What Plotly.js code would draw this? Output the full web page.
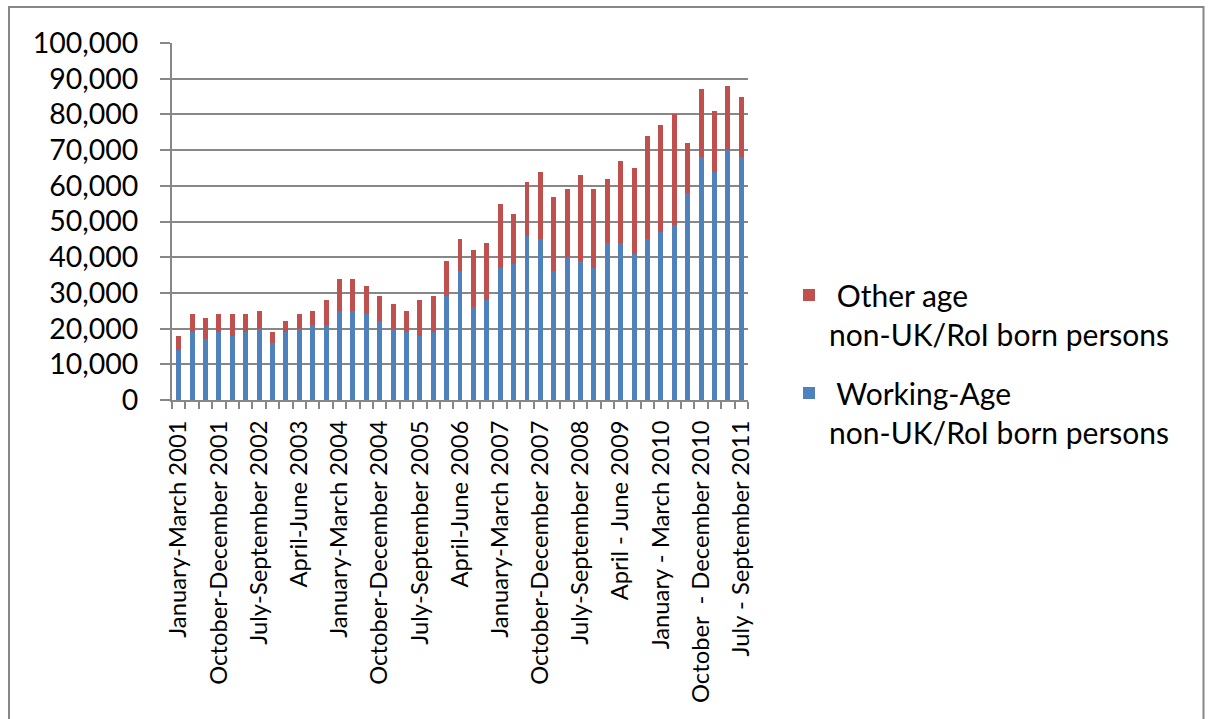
<!DOCTYPE html>
<html>
<head>
<meta charset="utf-8">
<script src="https://cdn.plot.ly/plotly-3.0.1.min.js"></script>
<style>
  html, body { margin: 0; padding: 0; background: #ffffff; }
  #chart { width: 1209px; height: 719px; }
</style>
</head>
<body>
<div id="chart"></div>
<script>
// Quarterly counts of non-UK/RoI born persons, 2001 Q1 to 2011 Q3
const quarters = [
  "January-March 2001", "April-June 2001", "July-September 2001", "October-December 2001",
  "January-March 2002", "April-June 2002", "July-September 2002", "October-December 2002",
  "January-March 2003", "April-June 2003", "July-September 2003", "October-December 2003",
  "January-March 2004", "April-June 2004", "July-September 2004", "October-December 2004",
  "January-March 2005", "April-June 2005", "July-September 2005", "October-December 2005",
  "January-March 2006", "April-June 2006", "July-September 2006", "October-December 2006",
  "January-March 2007", "April-June 2007", "July-September 2007", "October-December 2007",
  "January-March 2008", "April-June 2008", "July-September 2008", "October-December 2008",
  "January - March 2009", "April - June 2009", "July - September 2009", "October \u00a0- December 2009",
  "January - March 2010", "April - June 2010", "July - September 2010", "October \u00a0- December 2010",
  "January - March 2011", "April - June 2011", "July - September 2011"
];

const workingAge = [
  14000, 19000, 17000, 19000, 18000, 19000, 20000, 16000, 19000, 20000,
  21000, 21000, 25000, 25000, 24000, 22000, 20000, 19000, 18000, 19000,
  29000, 36000, 26000, 28000, 37000, 38000, 46000, 45000, 36000, 40000,
  39000, 37000, 44000, 44000, 41000, 45000, 47000, 49000, 58000, 68000,
  64000, 70000, 68000
];

const otherAge = [
  4000, 5000, 6000, 5000, 6000, 5000, 5000, 3000, 3000, 4000,
  4000, 7000, 9000, 9000, 8000, 7000, 7000, 6000, 10000, 10000,
  10000, 9000, 16000, 16000, 18000, 14000, 15000, 19000, 21000, 19000,
  24000, 22000, 18000, 23000, 24000, 29000, 30000, 31000, 14000, 19000,
  17000, 18000, 17000
];

const seriesNames = [
  "\u00a0Working-Age<br>non-UK/RoI born persons",
  "\u00a0Other age<br>non-UK/RoI born persons"
];

const yTicks = [0, 10000, 20000, 30000, 40000, 50000, 60000, 70000, 80000, 90000, 100000];

// every third quarter carries a label; ticks sit on every category boundary
const tickText = quarters.map((q, i) => (i % 3 === 0 ? q : ""));

const FONT = "Lato, 'Open Sans', sans-serif";
const GREY = "#878787";

const traces = [
  {
    type: "bar",
    name: seriesNames[0],
    x: quarters,
    y: workingAge,
    marker: { color: "#4F81BD", line: { width: 0 } },
    legendgroup: "wa",
    legendrank: 2
  },
  {
    type: "bar",
    name: seriesNames[1],
    x: quarters,
    y: otherAge,
    marker: { color: "#C0504D", line: { width: 0 } },
    legendgroup: "oa",
    legendrank: 1
  }
];

// plot area spans 172..748 px horizontally and 43..400 px vertically
const L = 172, R = 461, T = 43, B = 319;
const plotW = 1209 - L - R, plotH = 719 - T - B;
const px = v => (v - L) / plotW;
const py = v => (719 - B - v) / plotH;

const layout = {
  width: 1209,
  height: 719,
  margin: { l: L, r: R, t: T, b: B, pad: 0 },
  paper_bgcolor: "#ffffff",
  plot_bgcolor: "#ffffff",
  barmode: "stack",
  bargap: 0.63,
  font: { family: FONT, color: "#000000" },
  showlegend: true,
  legend: {
    x: px(789),
    y: py(269),
    xanchor: "left",
    yanchor: "top",
    traceorder: "grouped",
    tracegroupgap: 17,
    valign: "top",
    font: { family: FONT, size: 30, color: "#000000" },
    bgcolor: "rgba(0,0,0,0)",
    borderwidth: 0
  },
  xaxis: {
    type: "category",
    tickmode: "array",
    tickvals: quarters,
    ticktext: tickText,
    tickson: "boundaries",
    tickangle: -90,
    ticks: "outside",
    ticklen: 7,
    tickwidth: 2,
    tickcolor: GREY,
    showline: true,
    linecolor: GREY,
    linewidth: 2,
    showgrid: false,
    zeroline: false,
    ticklabelstandoff: 9,
    tickfont: { family: FONT, size: 23.8, color: "#000000" },
    fixedrange: true
  },
  yaxis: {
    range: [0, 100000],
    tickmode: "array",
    tickvals: yTicks,
    tickformat: ",d",
    ticks: "outside",
    ticklen: 10,
    tickwidth: 2,
    tickcolor: GREY,
    showline: true,
    linecolor: GREY,
    linewidth: 2,
    showgrid: true,
    gridcolor: GREY,
    gridwidth: 2,
    zeroline: false,
    ticklabelstandoff: 16,
    tickfont: { family: FONT, size: 28.5, color: "#000000" },
    fixedrange: true
  },
  shapes: [
    {
      type: "rect",
      xref: "paper",
      yref: "paper",
      x0: px(9),
      x1: px(1203.5),
      y0: py(735),
      y1: py(7),
      line: { color: GREY, width: 2 },
      fillcolor: "rgba(0,0,0,0)",
      layer: "below"
    }
  ]
};

Plotly.newPlot("chart", traces, layout, { displayModeBar: false, staticPlot: true });
</script>
</body>
</html>
